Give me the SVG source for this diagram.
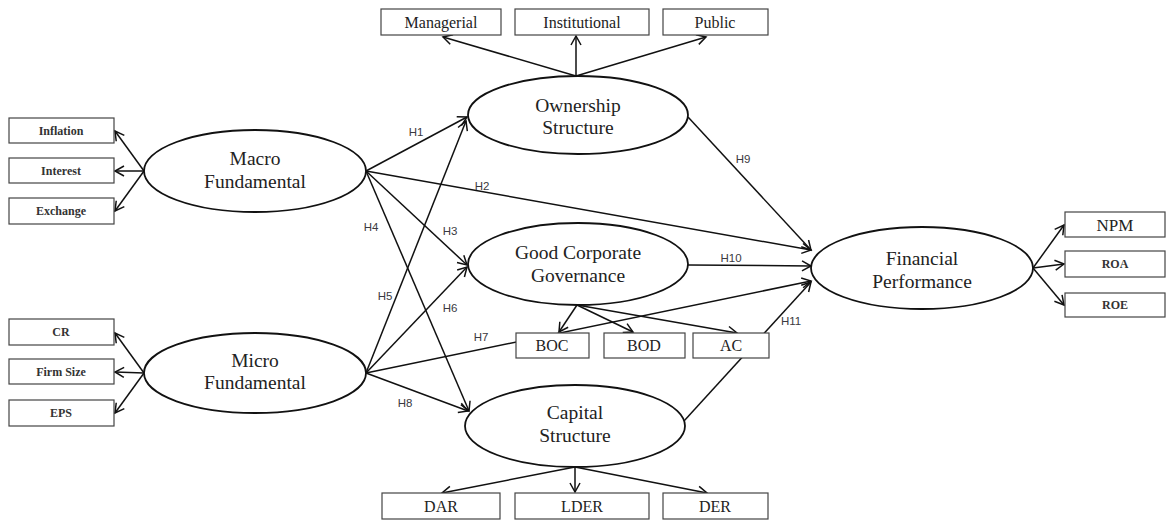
<svg xmlns="http://www.w3.org/2000/svg" width="1168" height="521" viewBox="0 0 1168 521">
  <style>
    .bg { fill: #ffffff; }
    .conn line { stroke: #111; stroke-width: 1.5; fill: none; marker-end: url(#arrow); }
    .lat ellipse { fill: #ffffff; stroke: #111; stroke-width: 1.8; }
    .ind rect { fill: #ffffff; stroke: #444; stroke-width: 1.2; }
    .lt { font-family: "Liberation Serif", "Times New Roman", serif; font-size: 19.5px; fill: #222; text-anchor: middle; }
    .bt { font-family: "Liberation Serif", "Times New Roman", serif; font-size: 16px; fill: #222; text-anchor: middle; }
    .st { font-family: "Liberation Serif", "Times New Roman", serif; font-size: 12px; font-weight: bold; fill: #333; text-anchor: middle; }
    .hl { font-family: "Liberation Sans", Arial, sans-serif; font-size: 11.5px; fill: #3a3940; text-anchor: middle; }
  </style>
  <defs>
    <marker id="arrow" markerUnits="userSpaceOnUse" markerWidth="14" markerHeight="14" refX="10" refY="6" orient="auto">
      <path d="M1,1 L10,6 L1,11" fill="none" stroke="#111" stroke-width="1.5"/>
    </marker>
  </defs>
  <rect class="bg" x="0" y="0" width="1168" height="521"/>

  <!-- connectors -->
  <g id="connectors" class="conn">
    <!-- Macro indicators -->
    <line x1="144" y1="171" x2="115" y2="131"/>
    <line x1="144" y1="171" x2="115" y2="171"/>
    <line x1="144" y1="171" x2="115" y2="211"/>
    <!-- Micro indicators -->
    <line x1="144" y1="373" x2="115" y2="333"/>
    <line x1="144" y1="373" x2="115" y2="372"/>
    <line x1="144" y1="373" x2="115" y2="413"/>
    <!-- Ownership indicators -->
    <line x1="576" y1="76" x2="443" y2="37"/>
    <line x1="576" y1="76" x2="576" y2="36"/>
    <line x1="576" y1="76" x2="706" y2="37"/>
    <!-- Capital structure indicators -->
    <line x1="575" y1="467" x2="442" y2="493"/>
    <line x1="575" y1="467" x2="575" y2="492"/>
    <line x1="575" y1="467" x2="707" y2="493"/>
    <!-- GCG indicators -->
    <line x1="577" y1="305" x2="559" y2="332"/>
    <line x1="577" y1="305" x2="633" y2="332"/>
    <line x1="577" y1="305" x2="737" y2="333"/>
    <!-- Financial performance indicators -->
    <line x1="1033" y1="268" x2="1064" y2="225"/>
    <line x1="1033" y1="268" x2="1064" y2="264"/>
    <line x1="1033" y1="268" x2="1064" y2="305"/>
    <!-- hypotheses -->
    <line x1="366" y1="171" x2="467" y2="117"/>
    <line x1="366" y1="171" x2="811" y2="250"/>
    <line x1="366" y1="171" x2="467" y2="265"/>
    <line x1="366" y1="171" x2="469" y2="411"/>
    <line x1="366" y1="373" x2="466" y2="121"/>
    <line x1="366" y1="373" x2="467" y2="267"/>
    <line x1="366" y1="373" x2="811" y2="281"/>
    <line x1="366" y1="373" x2="468" y2="411"/>
    <line x1="688" y1="117" x2="811" y2="250"/>
    <line x1="688" y1="265" x2="811" y2="266"/>
    <line x1="684" y1="421" x2="811" y2="282"/>
  </g>

  <!-- hypothesis labels -->
  <g id="labels">
    <text class="hl" x="416" y="136">H1</text>
    <text class="hl" x="482" y="190">H2</text>
    <text class="hl" x="450" y="235">H3</text>
    <text class="hl" x="371" y="231">H4</text>
    <text class="hl" x="385" y="300">H5</text>
    <text class="hl" x="450" y="312">H6</text>
    <text class="hl" x="481" y="341">H7</text>
    <text class="hl" x="405" y="407">H8</text>
    <text class="hl" x="743" y="163">H9</text>
    <text class="hl" x="731" y="262">H10</text>
    <text class="hl" x="791" y="325">H11</text>
  </g>

  <!-- latent constructs -->
  <g id="macro" class="lat">
    <ellipse cx="255" cy="171" rx="111" ry="41"/>
    <text class="lt" x="255" y="165">Macro</text>
    <text class="lt" x="255" y="188">Fundamental</text>
  </g>
  <g id="micro" class="lat">
    <ellipse cx="255" cy="373" rx="111" ry="40"/>
    <text class="lt" x="255" y="367">Micro</text>
    <text class="lt" x="255" y="389">Fundamental</text>
  </g>
  <g id="ownership" class="lat">
    <ellipse cx="578" cy="115" rx="110" ry="39"/>
    <text class="lt" x="578" y="112">Ownership</text>
    <text class="lt" x="578" y="134">Structure</text>
  </g>
  <g id="gcg" class="lat">
    <ellipse cx="578" cy="264" rx="110" ry="41"/>
    <text class="lt" x="578" y="259">Good Corporate</text>
    <text class="lt" x="578" y="282">Governance</text>
  </g>
  <g id="capital" class="lat">
    <ellipse cx="575" cy="426" rx="110" ry="41"/>
    <text class="lt" x="575" y="419">Capital</text>
    <text class="lt" x="575" y="442">Structure</text>
  </g>
  <g id="financial" class="lat">
    <ellipse cx="922" cy="268" rx="111" ry="41"/>
    <text class="lt" x="922" y="265">Financial</text>
    <text class="lt" x="922" y="288">Performance</text>
  </g>

  <!-- indicators -->
  <g id="managerial" class="ind"><rect x="381" y="9" width="120" height="26"/><text class="bt" x="441" y="28">Managerial</text></g>
  <g id="institutional" class="ind"><rect x="515" y="9" width="134" height="26"/><text class="bt" x="582" y="28">Institutional</text></g>
  <g id="public" class="ind"><rect x="663" y="9" width="105" height="26"/><text class="bt" x="715" y="28">Public</text></g>

  <g id="inflation" class="ind"><rect x="9" y="118" width="105" height="25"/><text class="st" x="61" y="135">Inflation</text></g>
  <g id="interest" class="ind"><rect x="9" y="158" width="105" height="25"/><text class="st" x="61" y="175">Interest</text></g>
  <g id="exchange" class="ind"><rect x="9" y="198" width="105" height="26"/><text class="st" x="61" y="215">Exchange</text></g>

  <g id="cr" class="ind"><rect x="9" y="319" width="105" height="26"/><text class="st" x="61" y="336">CR</text></g>
  <g id="firmsize" class="ind"><rect x="9" y="359" width="105" height="25"/><text class="st" x="61" y="376">Firm Size</text></g>
  <g id="eps" class="ind"><rect x="9" y="400" width="105" height="26"/><text class="st" x="61" y="417">EPS</text></g>

  <g id="boc" class="ind"><rect x="516" y="333" width="73" height="25"/><text class="bt" x="552" y="351">BOC</text></g>
  <g id="bod" class="ind"><rect x="604" y="333" width="81" height="25"/><text class="bt" x="644" y="351">BOD</text></g>
  <g id="ac" class="ind"><rect x="693" y="333" width="76" height="25"/><text class="bt" x="731" y="351">AC</text></g>

  <g id="npm" class="ind"><rect x="1065" y="212" width="100" height="25"/><text class="bt" x="1115" y="231" style="font-size:17px">NPM</text></g>
  <g id="roa" class="ind"><rect x="1065" y="251" width="100" height="26"/><text class="st" x="1115" y="268">ROA</text></g>
  <g id="roe" class="ind"><rect x="1065" y="293" width="100" height="24"/><text class="st" x="1115" y="309">ROE</text></g>

  <g id="dar" class="ind"><rect x="382" y="493" width="118" height="26"/><text class="bt" x="441" y="512">DAR</text></g>
  <g id="lder" class="ind"><rect x="515" y="493" width="134" height="26"/><text class="bt" x="582" y="512">LDER</text></g>
  <g id="der" class="ind"><rect x="663" y="493" width="105" height="26"/><text class="bt" x="715" y="512">DER</text></g>
</svg>
